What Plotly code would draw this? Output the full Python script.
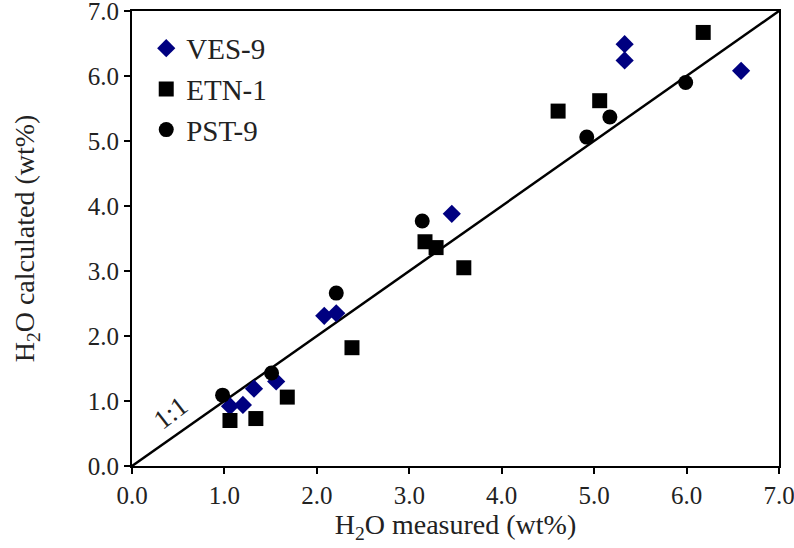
import plotly.graph_objects as go

# VES-9 (diamonds)
ves_x = [1.06, 1.20, 1.32, 1.56, 2.08, 2.21, 3.46, 5.33, 5.33, 6.59]
ves_y = [0.92, 0.94, 1.19, 1.30, 2.31, 2.35, 3.88, 6.49, 6.24, 6.08]
# ETN-1 (squares)
etn_x = [1.06, 1.34, 1.68, 2.38, 3.17, 3.29, 3.59, 4.61, 5.06, 6.18]
etn_y = [0.70, 0.73, 1.06, 1.82, 3.45, 3.36, 3.05, 5.46, 5.62, 6.67]
# PST-9 (circles)
pst_x = [0.98, 1.51, 2.21, 3.14, 4.92, 5.17, 5.99]
pst_y = [1.09, 1.43, 2.66, 3.77, 5.06, 5.37, 5.90]
# 1:1 reference line
line_x = [0.0, 7.0]
line_y = [0.0, 7.0]
tick_vals = [0, 1, 2, 3, 4, 5, 6, 7]
tick_text = ["0.0", "1.0", "2.0", "3.0", "4.0", "5.0", "6.0", "7.0"]

FONT = "Times New Roman, Liberation Serif, Times, serif"

fig = go.Figure()
fig.add_trace(go.Scatter(x=line_x, y=line_y, mode="lines",
                         line=dict(color="black", width=2.5),
                         showlegend=False, hoverinfo="skip"))
fig.add_trace(go.Scatter(x=ves_x, y=ves_y, mode="markers", name="VES-9",
                         marker=dict(symbol="diamond", size=14, color="#000080")))
fig.add_trace(go.Scatter(x=etn_x, y=etn_y, mode="markers", name="ETN-1",
                         marker=dict(symbol="square", size=15, color="black")))
fig.add_trace(go.Scatter(x=pst_x, y=pst_y, mode="markers", name="PST-9",
                         marker=dict(symbol="circle", size=15, color="black")))

axis_common = dict(range=[0, 7], tickvals=tick_vals, ticktext=tick_text,
                   showgrid=False, zeroline=False, showline=True, mirror=True,
                   linecolor="black", linewidth=2, ticks="outside", ticklen=6,
                   tickwidth=2, tickcolor="black", automargin=False,
                   ticklabeloverflow="allow",
                   tickfont=dict(family=FONT, size=25, color="#222"))

fig.update_xaxes(**axis_common,
                 title=dict(text="H<sub>2</sub>O measured (wt%)",
                            font=dict(family=FONT, size=28, color="#222"),
                            standoff=5))
fig.update_yaxes(**axis_common,
                 title=dict(text="H<sub>2</sub>O calculated (wt%)",
                            font=dict(family=FONT, size=28, color="#222"),
                            standoff=45))

fig.add_annotation(x=0.5, y=0.5, xref="x", yref="y", text="1:1",
                   showarrow=False, textangle=-38, xshift=-8, yshift=21,
                   font=dict(family=FONT, size=27, color="#222"))

fig.update_layout(
    width=794, height=548,
    margin=dict(l=132, r=15, t=11, b=82),
    plot_bgcolor="white", paper_bgcolor="white",
    legend=dict(x=0.022, y=0.974, xanchor="left", yanchor="top",
                bgcolor="rgba(0,0,0,0)",
                font=dict(family=FONT, size=29, color="#222"),
                itemsizing="trace"),
)

fig.write_html("out.html", config={"displayModeBar": False},
               post_script="document.body.style.margin='0';document.body.style.overflow='hidden';")
